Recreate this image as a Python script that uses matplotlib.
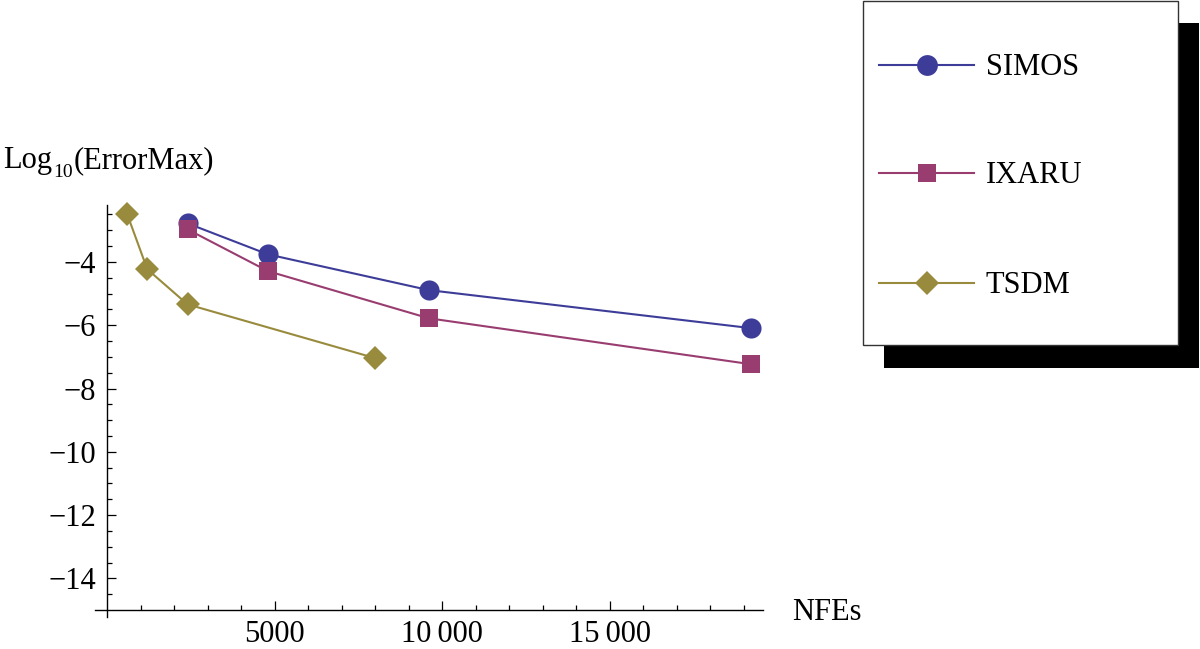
import matplotlib
matplotlib.use("Agg")
import matplotlib.pyplot as plt
from matplotlib.lines import Line2D
from matplotlib.patches import Rectangle
from matplotlib.ticker import FixedLocator

plt.rcParams['font.family'] = ['Liberation Serif', 'DejaVu Serif']

# ---- data ----
series_names = ["SIMOS", "IXARU", "TSDM"]
simos_x = [2400, 4800, 9600, 19200]
simos_y = [-2.78, -3.76, -4.89, -6.09]
ixaru_x = [2400, 4800, 9600, 19200]
ixaru_y = [-2.97, -4.29, -5.78, -7.23]
tsdm_x = [600, 1200, 2400, 8000]
tsdm_y = [-2.49, -4.23, -5.34, -7.04]
x_major_ticks = [5000, 10000, 15000]
x_tick_labels = ["5000", "10\u2009000", "15\u2009000"]
y_major_ticks = [-14, -12, -10, -8, -6, -4]
y_tick_labels = ["\u221214", "\u221212", "\u221210", "\u22128", "\u22126", "\u22124"]

colors = ["#3d3d99", "#993d71", "#998b3d"]
markers = ["o", "s", "D"]
msizes = [14.5, 12.5, 12]

W, H = 1200, 649
fig = plt.figure(figsize=(12, 6.49), dpi=100)

# axes geometry in pixels
left_px, right_px, top_px, bot_px = 95, 763, 205, 617
ax = fig.add_axes([left_px / W, (H - bot_px) / H, (right_px - left_px) / W, (bot_px - top_px) / H])
ax.set_xlim(-360, 19570)
ax.set_ylim(-15.22, -2.2)
ax.patch.set_alpha(0)

xs = [simos_x, ixaru_x, tsdm_x]
ys = [simos_y, ixaru_y, tsdm_y]
for x, y, c, m, ms, name in zip(xs, ys, colors, markers, msizes, series_names):
    ax.plot(x, y, color=c, lw=1.5, marker=m, markersize=ms, markeredgewidth=0,
            label=name, clip_on=False, zorder=3)

for s in ["top", "right"]:
    ax.spines[s].set_visible(False)
ax.spines["left"].set_position(("data", 0))
ax.spines["bottom"].set_position(("data", -15))
for s in ["left", "bottom"]:
    ax.spines[s].set_linewidth(1.0)

ax.xaxis.set_major_locator(FixedLocator(x_major_ticks))
ax.set_xticklabels(x_tick_labels)
ax.xaxis.set_minor_locator(FixedLocator([v for v in range(1000, 20000, 1000) if v % 5000 != 0]))
ax.yaxis.set_major_locator(FixedLocator(y_major_ticks))
ax.set_yticklabels(y_tick_labels)
ax.yaxis.set_minor_locator(FixedLocator([-14.5 + 0.5 * i for i in range(25) if (-14.5 + 0.5 * i) not in y_major_ticks]))

ax.tick_params(axis="both", which="major", direction="in", length=6.5, width=0.9, labelsize=22)
ax.tick_params(axis="both", which="minor", direction="in", length=3.8, width=0.9)
ax.tick_params(axis="x", which="major", pad=7)
ax.tick_params(axis="y", which="major", pad=8)

def fx(px):
    return px / W

def fy(py):
    return (H - py) / H

# axis labels
fig.text(fx(3), fy(168), "Log", fontsize=22, ha="left", va="baseline")
fig.text(fx(53), fy(177), "10", fontsize=14, ha="left", va="baseline")
fig.text(fx(74), fy(168), "(ErrorMax)", fontsize=22, ha="left", va="baseline")
fig.text(fx(792), fy(620), "NFEs", fontsize=22, ha="left", va="baseline")

# legend with drop shadow
shadow = Rectangle((fx(884), fy(368)), fx(1199) - fx(884), fy(23) - fy(368),
                   transform=fig.transFigure, facecolor="black", edgecolor="none", zorder=1)
box = Rectangle((fx(863), fy(345)), fx(1178) - fx(863), fy(1) - fy(345),
                transform=fig.transFigure, facecolor="white", edgecolor="#333333", lw=1.0, zorder=2)
fig.add_artist(shadow)
fig.add_artist(box)
row_y = [65, 173, 283]
base_y = [75, 183, 293]
for name, c, m, ms, ry, by in zip(series_names, colors, markers, msizes, row_y, base_y):
    fig.add_artist(Line2D([fx(879), fx(974)], [fy(ry), fy(ry)], color=c, lw=1.5,
                          transform=fig.transFigure, zorder=3))
    fig.add_artist(Line2D([fx(927)], [fy(ry)], color=c, marker=m, markersize=ms + 0.5,
                          markeredgewidth=0, transform=fig.transFigure, zorder=4))
    fig.text(fx(986), fy(by), name, fontsize=22, ha="left", va="baseline", zorder=5)

fig.savefig("out.png", dpi=100)
